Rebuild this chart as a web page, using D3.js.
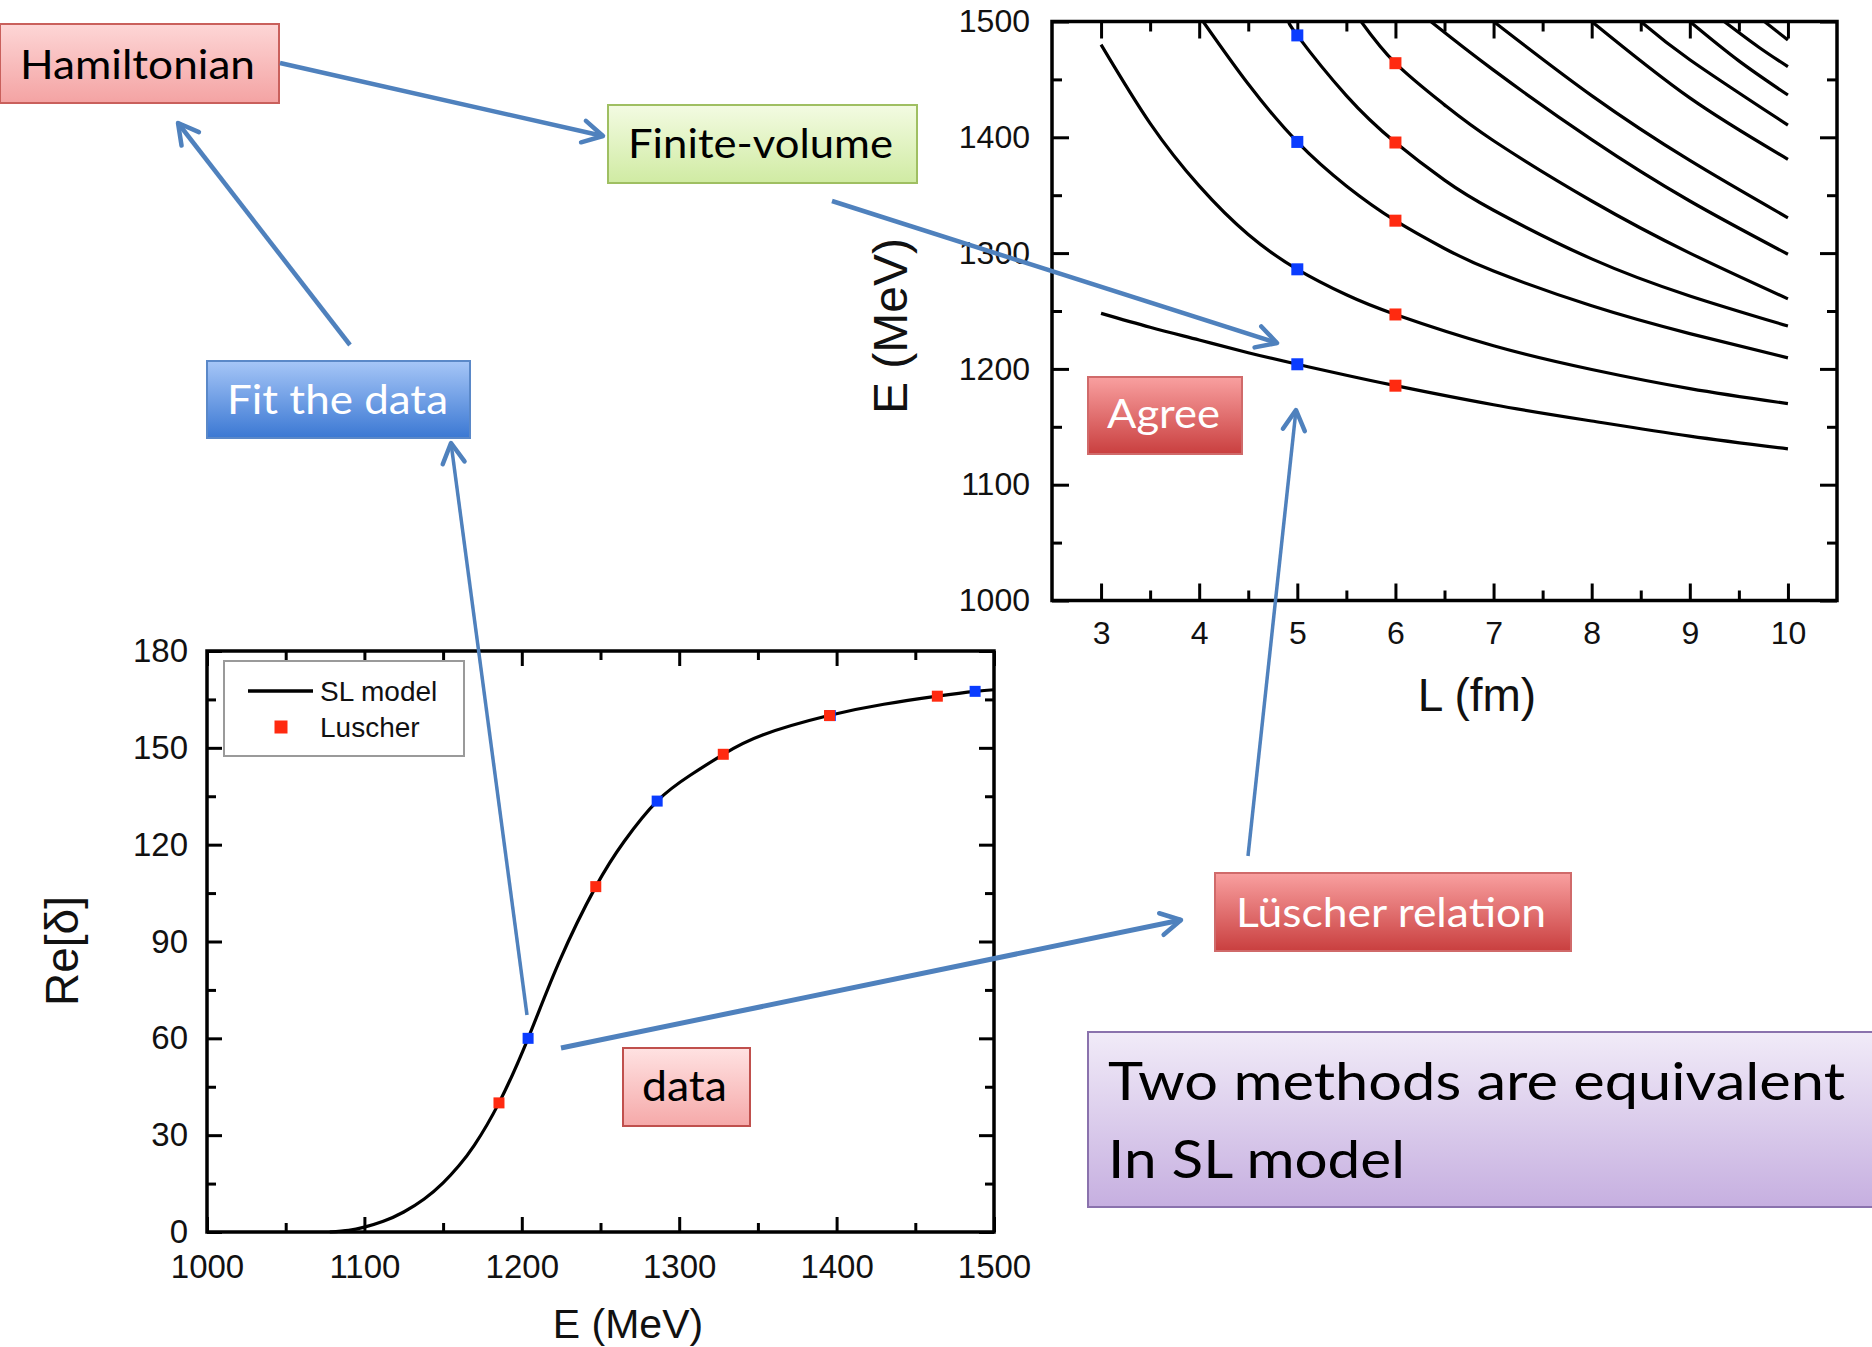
<!DOCTYPE html>
<html>
<head>
<meta charset="utf-8">
<script src="https://cdn.jsdelivr.net/npm/d3@7"></script>
<style>
  html, body { margin: 0; padding: 0; background: #ffffff; }
  svg { display: block; }
</style>
</head>
<body>
<svg id="fig" width="1872" height="1347"></svg>
<script>
// ---------------- data ----------------
// Finite-volume energy levels E(L): [L (fm), E (MeV)]
const level1  = [[3,1248],[3.5,1236],[4,1225],[4.5,1214],[5,1204],[5.5,1194.5],[6,1185.5],[7,1169],[8,1155],[9,1142],[10,1131]];
const level2  = [[3,1480],[3.5,1412],[4,1358],[4.5,1316],[5,1286],[5.5,1264],[6,1247],[7,1220],[8,1199.5],[9,1183],[10,1170]];
const level3  = [[4.04,1500],[4.5,1446],[5,1396],[5.5,1358],[6,1328],[6.5,1304],[7,1284.5],[8,1254.5],[9,1230.5],[10,1209.5]];
const level4  = [[4.92,1500],[5,1488],[5.5,1436],[6,1395.5],[6.5,1363],[7,1337],[8,1295],[9,1263],[10,1237]];
const level5  = [[5.65,1500],[6,1464],[6.5,1428],[7,1397],[8,1345],[9,1300],[10,1260.5]];
const level6  = [[6.36,1500],[7,1458],[8,1398],[9,1345],[10,1299]];
const level7  = [[7,1500],[8,1436],[9,1380],[10,1330.5]];
const level8  = [[8,1500],[9,1434],[10,1381]];
const level9  = [[8.5,1500],[9,1467],[10,1410.5]];
const level10 = [[9,1500],[9.5,1466],[10,1436.5]];
const level11 = [[9.35,1500],[9.7,1478],[10,1461]];
const level12 = [[9.76,1500],[10,1484]];
const energyLevels = [level1, level2, level3, level4, level5, level6, level7, level8, level9, level10, level11, level12];

// Levels picked out at two box sizes
const blueBoxL = 5;   // fm
const redBoxL = 6;    // fm
const blueEnergies = [1204, 1286, 1396, 1488];
const redEnergies  = [1185.5, 1247, 1328, 1395.5, 1464];

// Phase shifts extracted from those levels
const bluePhases = [60, 133.5, 160, 167.5];
const redPhases  = [40, 107, 148, 160, 166];

// SL model phase shift curve
const slEnergy = [1078, 1090, 1100, 1112, 1125, 1138, 1150, 1160, 1170, 1185.5, 1204, 1224, 1247, 1265, 1286, 1307, 1328, 1353, 1395, 1430, 1464, 1488, 1500];
const slPhase  = [0, 0.5, 1.5, 3.3, 6.2, 10.2, 15.2, 20.5, 27, 40, 60, 84, 107, 121, 133.5, 141.5, 148, 154, 160, 163.5, 166, 167.5, 168];

// Tick values
const lMajor = [3, 4, 5, 6, 7, 8, 9, 10];
const lMinor = [3.5, 4.5, 5.5, 6.5, 7.5, 8.5, 9.5];
const eMajor = [1000, 1100, 1200, 1300, 1400, 1500];
const eMinor = [1050, 1150, 1250, 1350, 1450];
const phaseMajor = [0, 30, 60, 90, 120, 150, 180];
const phaseMinor = [15, 45, 75, 105, 135, 165];

// ---------------- drawing ----------------
const svg = d3.select('#fig');
const defs = svg.append('defs');

const RED = '#ff2a10', BLUE = '#0a3cff', ARROW = '#4f81bd';
const AXIS_FONT = '"Liberation Sans", Arial, sans-serif';
const BOX_FONT = 'Lato, "Open Sans", sans-serif';

function grad(id, top, bottom) {
  const g = defs.append('linearGradient').attr('id', id)
    .attr('x1', 0).attr('y1', 0).attr('x2', 0).attr('y2', 1);
  g.append('stop').attr('offset', '0%').attr('stop-color', top);
  g.append('stop').attr('offset', '100%').attr('stop-color', bottom);
}
grad('gPink', '#fdd6d6', '#f4a3a3');
grad('gPinkLight', '#ffe2e2', '#f5a9a9');
grad('gGreen', '#f3fbe2', '#d0eba3');
grad('gBlue', '#a6c6f7', '#3b78d3');
grad('gRed', '#f9a0a0', '#c93f3f');
grad('gPurple', '#f1ebf8', '#c6afe0');

// Draws a framed plot with inward ticks on all four sides
function framedAxes(g, x, y, o) {
  const [x0, x1] = x.range(), [y0, y1] = y.range(); // y0 bottom, y1 top
  const style = sel => {
    sel.select('.domain').remove();
    sel.selectAll('.tick line').attr('stroke', '#000').attr('stroke-width', 3);
    sel.selectAll('.tick text').attr('font-family', AXIS_FONT)
      .attr('font-size', o.fontSize).attr('fill', '#111');
  };
  // bottom
  g.append('g').attr('transform', `translate(0,${y0})`)
    .call(d3.axisBottom(x).tickValues(o.xMajor).tickSize(-o.major).tickPadding(o.xPad).tickFormat(d3.format('d'))).call(style);
  g.append('g').attr('transform', `translate(0,${y0})`)
    .call(d3.axisBottom(x).tickValues(o.xMinor).tickSize(-o.minor).tickFormat('')).call(style);
  // top
  g.append('g').attr('transform', `translate(0,${y1})`)
    .call(d3.axisTop(x).tickValues(o.xMajor).tickSize(-o.major).tickFormat('')).call(style);
  g.append('g').attr('transform', `translate(0,${y1})`)
    .call(d3.axisTop(x).tickValues(o.xMinor).tickSize(-o.minor).tickFormat('')).call(style);
  // left
  g.append('g').attr('transform', `translate(${x0},0)`)
    .call(d3.axisLeft(y).tickValues(o.yMajor).tickSize(-o.major).tickPadding(o.yPad).tickFormat(d3.format('d'))).call(style);
  g.append('g').attr('transform', `translate(${x0},0)`)
    .call(d3.axisLeft(y).tickValues(o.yMinor).tickSize(-o.minor).tickFormat('')).call(style);
  // right
  g.append('g').attr('transform', `translate(${x1},0)`)
    .call(d3.axisRight(y).tickValues(o.yMajor).tickSize(-o.major).tickFormat('')).call(style);
  g.append('g').attr('transform', `translate(${x1},0)`)
    .call(d3.axisRight(y).tickValues(o.yMinor).tickSize(-o.minor).tickFormat('')).call(style);
  // frame
  g.append('rect').attr('x', x0).attr('y', y1).attr('width', x1 - x0).attr('height', y0 - y1)
    .attr('fill', 'none').attr('stroke', '#000').attr('stroke-width', 3.5);
}

function square(g, cx, cy, size, color) {
  g.append('rect').attr('x', cx - size / 2).attr('y', cy - size / 2)
    .attr('width', size).attr('height', size).attr('fill', color);
}

// ---- spectrum panel: E vs L ----
const xL = d3.scaleLinear().domain([2.5, 10.5]).range([1052, 1837]);
const yE = d3.scaleLinear().domain([1000, 1500]).range([600.5, 21.5]);
const spec = svg.append('g');

defs.append('clipPath').attr('id', 'specClip').append('rect')
  .attr('x', xL(2.5)).attr('y', yE(1500)).attr('width', xL(10.5) - xL(2.5)).attr('height', yE(1000) - yE(1500));

const levelLine = d3.line().x(d => xL(d[0])).y(d => yE(d[1])).curve(d3.curveNatural);
spec.append('g').attr('clip-path', 'url(#specClip)')
  .selectAll('path').data(energyLevels).join('path')
  .attr('d', levelLine).attr('fill', 'none').attr('stroke', '#000').attr('stroke-width', 3.2);

framedAxes(spec, xL, yE, {
  xMajor: lMajor, xMinor: lMinor, yMajor: eMajor, yMinor: eMinor,
  major: 17, minor: 10, xPad: 21, yPad: 22, fontSize: 32
});

blueEnergies.forEach(e => square(spec, xL(blueBoxL), yE(e), 12, BLUE));
redEnergies.forEach(e => square(spec, xL(redBoxL), yE(e), 12, RED));

spec.append('text').attr('transform', 'translate(907,326) rotate(-90)')
  .attr('text-anchor', 'middle').attr('font-family', AXIS_FONT).attr('font-size', 48)
  .attr('fill', '#111').text('E (MeV)');
spec.append('text').attr('x', 1477).attr('y', 711)
  .attr('text-anchor', 'middle').attr('font-family', AXIS_FONT).attr('font-size', 46)
  .attr('fill', '#111').text('L (fm)');

// ---- phase-shift panel: Re[delta] vs E ----
const xE = d3.scaleLinear().domain([1000, 1500]).range([207, 994]);
const yP = d3.scaleLinear().domain([0, 180]).range([1232, 651]);
const phase = svg.append('g');

const slLine = d3.line().x((d, i) => xE(slEnergy[i])).y((d, i) => yP(slPhase[i])).curve(d3.curveNatural);
phase.append('path').datum(slEnergy).attr('d', slLine)
  .attr('fill', 'none').attr('stroke', '#000').attr('stroke-width', 3.2);

framedAxes(phase, xE, yP, {
  xMajor: eMajor, xMinor: eMinor, yMajor: phaseMajor, yMinor: phaseMinor,
  major: 15, minor: 9, xPad: 23, yPad: 19, fontSize: 33
});

blueEnergies.forEach((e, i) => square(phase, xE(e), yP(bluePhases[i]), 11, BLUE));
redEnergies.forEach((e, i) => square(phase, xE(e), yP(redPhases[i]), 11, RED));

// legend
const leg = phase.append('g');
leg.append('rect').attr('x', 224).attr('y', 661).attr('width', 240).attr('height', 95)
  .attr('fill', '#fff').attr('stroke', '#9a9a9a').attr('stroke-width', 2);
leg.append('line').attr('x1', 248).attr('x2', 313).attr('y1', 691).attr('y2', 691)
  .attr('stroke', '#000').attr('stroke-width', 3.5);
square(leg, 281, 727, 13, RED);
leg.append('text').attr('x', 320).attr('y', 701).attr('font-family', AXIS_FONT)
  .attr('font-size', 28).attr('fill', '#111').text('SL model');
leg.append('text').attr('x', 320).attr('y', 737).attr('font-family', AXIS_FONT)
  .attr('font-size', 28).attr('fill', '#111').text('Luscher');

phase.append('text').attr('transform', 'translate(78,951) rotate(-90)')
  .attr('text-anchor', 'middle').attr('font-family', AXIS_FONT).attr('font-size', 46)
  .attr('fill', '#111').text('Re[δ]');
phase.append('text').attr('x', 628).attr('y', 1338)
  .attr('text-anchor', 'middle').attr('font-family', AXIS_FONT).attr('font-size', 41)
  .attr('fill', '#111').text('E (MeV)');

// ---- flow-chart labels ----
function labelBox(x0, y0, x1, y1, fill, stroke, lines, color, fs) {
  const g = svg.append('g');
  g.append('rect').attr('x', x0).attr('y', y0).attr('width', x1 - x0).attr('height', y1 - y0)
    .attr('fill', `url(#${fill})`).attr('stroke', stroke).attr('stroke-width', 2);
  lines.forEach(l => {
    g.append('text').attr('x', l.x).attr('y', l.y)
      .attr('font-family', BOX_FONT).attr('font-size', fs).attr('fill', color)
      .attr('textLength', l.w).attr('lengthAdjust', 'spacingAndGlyphs').text(l.t);
  });
}

// ---- arrows ----
defs.append('marker').attr('id', 'head').attr('markerUnits', 'userSpaceOnUse')
  .attr('viewBox', '-30 -20 40 40').attr('markerWidth', 40).attr('markerHeight', 40)
  .attr('refX', 0).attr('refY', 0).attr('orient', 'auto')
  .append('path').attr('d', 'M-20,-11 L0,0 L-20,11')
  .attr('fill', 'none').attr('stroke', ARROW).attr('stroke-width', 4.5)
  .attr('stroke-linecap', 'round').attr('stroke-linejoin', 'round');

function arrow(x1, y1, x2, y2, w) {
  svg.append('line').attr('x1', x1).attr('y1', y1).attr('x2', x2).attr('y2', y2)
    .attr('stroke', ARROW).attr('stroke-width', w).attr('marker-end', 'url(#head)');
}

labelBox(0, 24, 279, 103, 'gPink', '#c9605c', [{ t: 'Hamiltonian', x: 20, y: 79, w: 235 }], '#000', 41);
labelBox(608, 105, 917, 183, 'gGreen', '#9fbf62', [{ t: 'Finite-volume', x: 628, y: 158, w: 265 }], '#000', 41);
labelBox(207, 361, 470, 438, 'gBlue', '#5a88c8', [{ t: 'Fit the data', x: 227, y: 414, w: 221 }], '#fff', 41);
labelBox(1088, 377, 1242, 454, 'gRed', '#d06a6a', [{ t: 'Agree', x: 1107, y: 428, w: 113 }], '#fff', 41);
labelBox(1215, 873, 1571, 951, 'gRed', '#d06a6a', [{ t: 'Lüscher relation', x: 1236, y: 927, w: 310 }], '#fff', 41);
labelBox(623, 1048, 750, 1126, 'gPinkLight', '#c0504d', [{ t: 'data', x: 642, y: 1101, w: 85 }], '#000', 42);
labelBox(1088, 1032, 1874, 1207, 'gPurple', '#8a72ad', [
  { t: 'Two methods are equivalent', x: 1108, y: 1100, w: 737 },
  { t: 'In SL model', x: 1108, y: 1178, w: 297 }
], '#000', 52);

arrow(280, 63, 603, 136, 4.5);     // Hamiltonian -> Finite-volume
arrow(350, 345, 178, 123, 4.5);    // Fit the data -> Hamiltonian
arrow(527, 1015, 451, 443, 3.5);   // data point -> Fit the data
arrow(561, 1048, 1181, 920, 5);    // data -> Lüscher relation
arrow(832, 201, 1277, 343, 4.5);   // Finite-volume -> spectrum
arrow(1248, 856, 1296, 410, 3.5);  // Lüscher relation -> Agree
</script>
</body>
</html>
